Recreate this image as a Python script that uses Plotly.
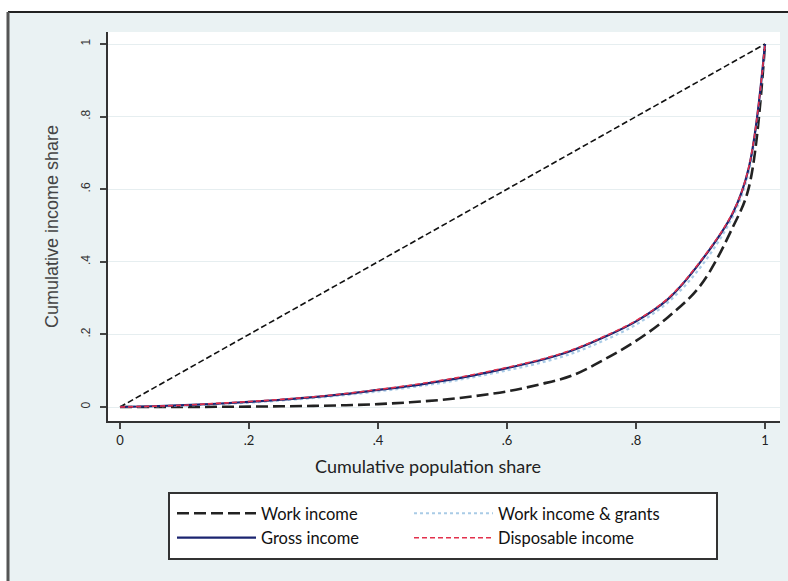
import plotly.graph_objects as go

# ---- data ----
pop_share = [0, 0.05, 0.1, 0.15, 0.2, 0.25, 0.3, 0.35, 0.4, 0.45, 0.5, 0.55,
             0.6, 0.65, 0.7, 0.75, 0.8, 0.85, 0.9, 0.95, 0.975, 1.0]
work_income = [0, 0.0, 0.0, 0.0005, 0.001, 0.002, 0.003, 0.005, 0.008, 0.013, 0.020, 0.030,
               0.043, 0.062, 0.086, 0.130, 0.182, 0.248, 0.335, 0.495, 0.605, 1.0]
work_grants = [0, 0.002, 0.004, 0.008, 0.012, 0.018, 0.025, 0.033, 0.043, 0.054, 0.067, 0.083,
               0.101, 0.121, 0.147, 0.183, 0.227, 0.289, 0.385, 0.525, 0.650, 1.0]
gross_income = [0, 0.002, 0.005, 0.009, 0.014, 0.020, 0.027, 0.036, 0.047, 0.058, 0.072, 0.088,
                0.107, 0.128, 0.155, 0.192, 0.236, 0.298, 0.400, 0.534, 0.660, 1.0]
disposable_income = [0, 0.002, 0.005, 0.010, 0.015, 0.021, 0.028, 0.037, 0.048, 0.060, 0.074, 0.090,
                     0.109, 0.130, 0.157, 0.194, 0.238, 0.300, 0.402, 0.536, 0.662, 1.0]
equality_x = [0, 1]
equality_y = [0, 1]

x_ticks = [0, 0.2, 0.4, 0.6, 0.8, 1]
x_tick_labels = ["0", ".2", ".4", ".6", ".8", "1"]
y_ticks = [0, 0.2, 0.4, 0.6, 0.8, 1]
y_tick_labels = ["0", ".2", ".4", ".6", ".8", "1"]

W, H = 788, 581
L, R, T, B = 108, 8, 32, 160
pw, ph = W - L - R, H - T - B


def px(xp):
    return (xp - L) / pw


def py(yp):
    return (H - B - yp) / ph


fig = go.Figure()
fig.add_trace(go.Scatter(x=equality_x, y=equality_y, mode="lines", showlegend=False,
                         line=dict(color="#111111", width=1.6, dash="6px,3px")))
fig.add_trace(go.Scatter(x=pop_share, y=work_income, mode="lines", name="Work income",
                         legend="legend",
                         line=dict(color="#222222", width=2.6, dash="12px,5px", shape="spline")))
fig.add_trace(go.Scatter(x=pop_share, y=work_grants, mode="lines", name="Work income & grants",
                         legend="legend2",
                         line=dict(color="#a9cbe6", width=2.2, dash="dot", shape="spline")))
fig.add_trace(go.Scatter(x=pop_share, y=gross_income, mode="lines", name="Gross income",
                         legend="legend",
                         line=dict(color="#1b2470", width=2.2, shape="spline")))
fig.add_trace(go.Scatter(x=pop_share, y=disposable_income, mode="lines", name="Disposable income",
                         legend="legend2",
                         line=dict(color="#e2304c", width=1.6, dash="5px,3px", shape="spline")))

x0, x1 = 120, 765
y0, y1 = 407, 44
xr = [(L - x0) / (x1 - x0), (L + pw - x0) / (x1 - x0)]
yr = [(y0 - (H - B)) / (y0 - y1), (y0 - T) / (y0 - y1)]

shapes = [
    # white strips outside outer frame
    dict(type="rect", xref="paper", yref="paper", x0=px(-20), x1=px(W + 20), y0=py(12), y1=py(-20),
         fillcolor="white", line=dict(width=0), layer="below"),
    dict(type="rect", xref="paper", yref="paper", x0=px(-20), x1=px(8), y0=py(H + 20), y1=py(12),
         fillcolor="white", line=dict(width=0), layer="below"),
    # outer frame lines
    dict(type="line", xref="paper", yref="paper", x0=px(8), x1=px(W + 10), y0=py(12), y1=py(12),
         line=dict(color="#222222", width=2), layer="below"),
    dict(type="line", xref="paper", yref="paper", x0=px(8), x1=px(8), y0=py(12), y1=py(H + 10),
         line=dict(color="#555555", width=3), layer="below"),
    # legend box
    dict(type="rect", xref="paper", yref="paper", x0=px(169), x1=px(717), y0=py(559), y1=py(493),
         fillcolor="white", line=dict(color="#333333", width=2), layer="below"),
]

legend_common = dict(orientation="v", yanchor="top", xanchor="left",
                     bgcolor="rgba(0,0,0,0)", borderwidth=0, itemwidth=79,
                     font=dict(family="Lato", size=16.5, color="#111111"),
                     tracegroupgap=0, itemclick=False, itemdoubleclick=False)

fig.update_layout(
    width=W, height=H,
    margin=dict(l=L, r=R, t=T, b=B, autoexpand=False),
    paper_bgcolor="#eaf2f3",
    plot_bgcolor="white",
    shapes=shapes,
    showlegend=True,
    legend=dict(x=px(172), y=py(496), **legend_common),
    legend2=dict(x=px(409), y=py(496), **legend_common),
    annotations=[dict(text="Cumulative population share", xref="paper", yref="paper",
                      x=px(428), y=py(466), xanchor="center", yanchor="middle", showarrow=False,
                      font=dict(family="Lato", size=18, color="#222222"))],
    xaxis=dict(range=xr, tickvals=x_ticks, ticktext=x_tick_labels, showgrid=False, zeroline=False,
               showline=True, linecolor="#333333", linewidth=2, ticks="outside", ticklen=6,
               tickwidth=1.5, tickcolor="#444444",
               tickfont=dict(family="Lato", size=13, color="#222222")),
    yaxis=dict(range=yr, tickvals=y_ticks, ticktext=y_tick_labels, showgrid=True,
               gridcolor="#e6eef0", gridwidth=1, zeroline=False,
               showline=True, linecolor="#333333", linewidth=2, ticks="outside", ticklen=6,
               tickwidth=1.5, tickcolor="#444444", tickangle=-90, ticklabelstandoff=5,
               tickfont=dict(family="Liberation Sans", size=12, color="#333333"),
               title=dict(text="Cumulative income share", standoff=16,
                          font=dict(family="Liberation Sans", size=18, color="#444444"))),
)

fig.write_html("out.html", config={"displayModeBar": False},
               post_script="document.body.style.margin='0';")
